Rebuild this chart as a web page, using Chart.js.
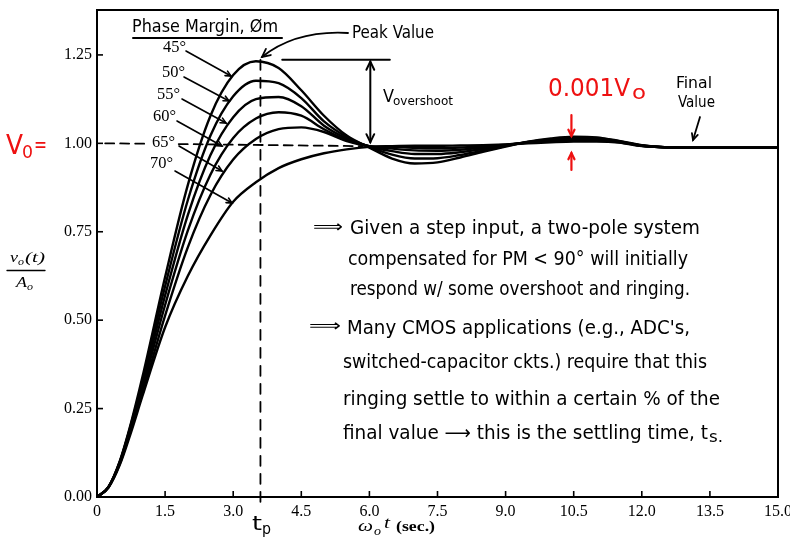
<!DOCTYPE html>
<html>
<head>
<meta charset="utf-8">
<script src="https://cdn.jsdelivr.net/npm/chart.js@4.4.1/dist/chart.umd.min.js"></script>
<style>
html, body { margin: 0; padding: 0; background: #fff; }
</style>
</head>
<body>
<canvas id="chart1" width="790" height="543"></canvas>
<script>
// w_o*t values shared by every curve
const tGrid = [0, 0.25, 0.5, 0.75, 1, 1.5, 2, 2.5, 3, 3.5, 4, 4.5, 5, 5.5, 6, 6.5, 7, 7.5, 8,
               8.5, 9, 9.5, 10, 10.5, 11, 11.5, 12, 12.5, 13, 14, 15];

// vo(t)/Ao, one list per phase margin
const pm45 = [0, 0.028, 0.101, 0.210, 0.339, 0.622, 0.882, 1.078, 1.193, 1.232, 1.213, 1.150, 1.078, 1.022, 0.988, 0.957, 0.943, 0.946, 0.960,
              0.976, 0.991, 1.005, 1.014, 1.019, 1.017, 1.007, 0.995, 0.989, 0.988, 0.988, 0.988];
const pm50 = [0, 0.028, 0.099, 0.206, 0.328, 0.596, 0.839, 1.022, 1.133, 1.177, 1.170, 1.128, 1.062, 1.018, 0.990, 0.968, 0.957, 0.958, 0.967,
              0.979, 0.992, 1.004, 1.012, 1.016, 1.015, 1.006, 0.994, 0.989, 0.988, 0.988, 0.988];
const pm55 = [0, 0.028, 0.098, 0.202, 0.317, 0.570, 0.797, 0.967, 1.074, 1.125, 1.131, 1.105, 1.050, 1.014, 0.991, 0.978, 0.970, 0.970, 0.975,
              0.984, 0.994, 1.004, 1.010, 1.013, 1.012, 1.005, 0.994, 0.989, 0.988, 0.988, 0.988];
const pm60 = [0, 0.027, 0.096, 0.197, 0.306, 0.543, 0.753, 0.912, 1.015, 1.070, 1.088, 1.078, 1.040, 1.010, 0.992, 0.985, 0.980, 0.979, 0.982,
              0.988, 0.995, 1.003, 1.008, 1.010, 1.009, 1.004, 0.993, 0.989, 0.988, 0.988, 0.988];
const pm65 = [0, 0.027, 0.093, 0.191, 0.293, 0.513, 0.706, 0.854, 0.954, 1.012, 1.040, 1.045, 1.032, 1.006, 0.992, 0.990, 0.987, 0.986, 0.988,
              0.991, 0.996, 1.002, 1.006, 1.007, 1.007, 1.003, 0.993, 0.989, 0.988, 0.988, 0.988];
const pm70 = [0, 0.026, 0.090, 0.183, 0.285, 0.480, 0.625, 0.740, 0.835, 0.890, 0.930, 0.955, 0.972, 0.983, 0.990, 0.992, 0.993, 0.993, 0.994,
              0.995, 0.997, 1.000, 1.003, 1.005, 1.005, 1.002, 0.992, 0.989, 0.988, 0.988, 0.988];

const seriesNames = ['45°', '50°', '55°', '60°', '65°', '70°'];

// axis ticks
const xTicks = [0, 1.5, 3, 4.5, 6, 7.5, 9, 10.5, 12, 13.5, 15];
const xTickLabels = ['0', '1.5', '3.0', '4.5', '6.0', '7.5', '9.0', '10.5', '12.0', '13.5', '15.0'];
const yTicks = [0, 0.25, 0.5, 0.75, 1, 1.25];
const yTickLabels = ['0.00', '0.25', '0.50', '0.75', '1.00', '1.25'];

const tPeak = 3.6;     // t_p marker
const vPeak = 1.236;

const hand = "'DejaVu Sans Condensed', 'DejaVu Sans', sans-serif";
const serif = "'Liberation Serif', 'DejaVu Serif', serif";
const red = '#ee1111';

function toPoints(vals) {
    return tGrid.map((t, i) => ({x: t, y: vals[i]}));
}

// draw text left-aligned, squeezed/stretched to width w
function fit(ctx, txt, x, y, w, font, color) {
    ctx.save();
    ctx.font = font;
    ctx.fillStyle = color || '#000';
    ctx.textBaseline = 'middle';
    ctx.textAlign = 'left';
    const m = ctx.measureText(txt).width;
    ctx.translate(x, y);
    ctx.scale(w / m, 1);
    ctx.fillText(txt, 0, 0);
    ctx.restore();
}

function line(ctx, x1, y1, x2, y2) {
    ctx.beginPath();
    ctx.moveTo(x1, y1);
    ctx.lineTo(x2, y2);
    ctx.stroke();
}

function head(ctx, x, y, ang, size) {
    ctx.beginPath();
    ctx.moveTo(x - size * Math.cos(ang - 0.45), y - size * Math.sin(ang - 0.45));
    ctx.lineTo(x, y);
    ctx.lineTo(x - size * Math.cos(ang + 0.45), y - size * Math.sin(ang + 0.45));
    ctx.stroke();
}

function arrow(ctx, x1, y1, x2, y2, size) {
    line(ctx, x1, y1, x2, y2);
    head(ctx, x2, y2, Math.atan2(y2 - y1, x2 - x1), size || 7);
}

const frame = {
    id: 'frame',
    afterDraw(chart) {
        const {ctx, chartArea: a, scales: {x, y}} = chart;
        ctx.save();
        ctx.strokeStyle = '#000';
        ctx.lineWidth = 2;
        ctx.strokeRect(a.left, a.top, a.right - a.left, a.bottom - a.top);
        ctx.lineWidth = 1.6;
        xTicks.forEach(v => {
            if (v > 0 && v < 15) {
                const px = x.getPixelForValue(v);
                line(ctx, px, a.bottom, px, a.bottom - 6);
            }
        });
        yTicks.forEach(v => {
            if (v > 0) {
                const py = y.getPixelForValue(v);
                line(ctx, a.left, py, a.left + 6, py);
            }
        });
        ctx.restore();
    }
};

const notes = {
    id: 'notes',
    afterDraw(chart) {
        const {ctx, scales: {x, y}} = chart;
        const X = v => x.getPixelForValue(v);
        const Y = v => y.getPixelForValue(v);
        ctx.save();
        ctx.strokeStyle = '#000';
        ctx.lineCap = 'round';

        // dashed reference lines
        ctx.lineWidth = 1.8;
        ctx.setLineDash([9, 6]);
        line(ctx, X(0.18), Y(1.0), X(1.15), Y(0.999));
        line(ctx, X(1.8), Y(0.998), X(5.85), Y(0.992));
        ctx.setLineDash([10, 8]);
        line(ctx, X(tPeak), Y(vPeak), X(tPeak), Y(-0.02));
        ctx.setLineDash([]);

        // overshoot marker
        ctx.lineWidth = 2;
        line(ctx, X(4.08), Y(vPeak), X(6.45), Y(vPeak));
        line(ctx, X(6.02), Y(vPeak - 0.005), X(6.02), Y(1.003));
        head(ctx, X(6.02), Y(vPeak - 0.005), -Math.PI / 2, 9);
        head(ctx, X(6.02), Y(1.003), Math.PI / 2, 9);

        // phase margin labels with pointers
        const labPos = [[163, 48], [162, 73], [157, 95], [153, 117], [152, 143], [150, 164]];
        const ptr = [[186, 51, 231, 76], [184, 77, 229, 101], [182, 99, 226, 123],
                     [177, 121, 222, 146], [179, 146, 222, 171], [175, 171, 232, 203]];
        ctx.lineWidth = 1.6;
        seriesNames.forEach((n, i) => {
            fit(ctx, n, labPos[i][0], labPos[i][1], 23, '17px ' + serif);
            arrow(ctx, ptr[i][0], ptr[i][1], ptr[i][2], ptr[i][3], 6);
        });

        // Phase Margin heading
        fit(ctx, 'Phase Margin, Øm', 132, 28, 146, '17px ' + hand);
        ctx.lineWidth = 2;
        line(ctx, 133, 38, 282, 38);

        // Peak Value
        fit(ctx, 'Peak Value', 352, 34, 82, '17px ' + hand);
        ctx.lineWidth = 1.8;
        ctx.beginPath();
        ctx.moveTo(348, 33);
        ctx.quadraticCurveTo(296, 30, 262, 57);
        ctx.stroke();
        head(ctx, 262, 57, Math.atan2(57 - 30, 262 - 296), 9);

        // V overshoot
        fit(ctx, 'V', 383, 98, 11, '17px ' + hand);
        fit(ctx, 'overshoot', 393, 102, 60, '12px ' + hand);

        // Final Value
        fit(ctx, 'Final', 676, 84, 36, '15px ' + hand);
        fit(ctx, 'Value', 678, 103, 37, '15px ' + hand);
        arrow(ctx, 700, 117, 693, 140, 7);

        // red notes
        ctx.strokeStyle = red;
        ctx.lineWidth = 2.2;
        fit(ctx, '0.001V', 548, 90, 82, '24px ' + hand, red);
        fit(ctx, 'o', 632, 94, 14, '20px ' + hand, red);
        arrow(ctx, X(10.45), 115, X(10.45), 136, 7);
        arrow(ctx, X(10.45), 170, X(10.45), 153, 7);
        fit(ctx, 'V', 6, 147, 17, '26px ' + hand, red);
        fit(ctx, '0', 22, 153, 11, '18px ' + hand, red);
        fit(ctx, '=', 34, 146, 13, '22px ' + hand, red);

        // handwritten remarks
        ctx.strokeStyle = '#000';
        const f = '19px ' + hand;
        fit(ctx, '⟹', 313, 228, 30, '17px ' + hand);
        fit(ctx, 'Given a step input, a two-pole system', 350, 229, 350, f);
        fit(ctx, 'compensated for PM < 90° will initially', 348, 260, 340, f);
        fit(ctx, 'respond w/ some overshoot and ringing.', 350, 290, 340, f);
        fit(ctx, '⟹', 309, 327, 32, '17px ' + hand);
        fit(ctx, "Many CMOS applications (e.g., ADC's,", 347, 329, 343, f);
        fit(ctx, 'switched-capacitor ckts.) require that this', 343, 363, 364, f);
        fit(ctx, 'ringing settle to within a certain % of the', 343, 400, 377, f);
        fit(ctx, 'final value ⟶ this is the settling time, t', 343, 434, 365, f);
        fit(ctx, 's.', 709, 438, 14, '15px ' + hand);

        // t_p under the axis
        fit(ctx, 't', 252, 525, 10, '20px ' + hand);
        fit(ctx, 'p', 262, 530, 9, '15px ' + hand);

        // axis titles
        ctx.fillStyle = '#000';
        fit(ctx, 'v', 10, 258, 8, 'italic 15px ' + serif);
        fit(ctx, 'o', 18, 262, 6, 'italic 11px ' + serif);
        fit(ctx, '(t)', 25, 258, 20, 'italic 15px ' + serif);
        ctx.lineWidth = 1.3;
        line(ctx, 7, 270.5, 45, 270.5);
        fit(ctx, 'A', 16, 283, 11, 'italic 15px ' + serif);
        fit(ctx, 'o', 27, 287, 6, 'italic 11px ' + serif);

        fit(ctx, 'ω', 358, 527, 15, 'italic 17px ' + serif);
        fit(ctx, 'o', 374, 532, 7, 'italic 12px ' + serif);
        fit(ctx, 't', 384, 524, 6, 'italic 16px ' + serif);
        fit(ctx, '(sec.)', 396, 527, 39, 'bold 15px ' + serif);
        ctx.restore();
    }
};

const data = {
    datasets: [pm45, pm50, pm55, pm60, pm65, pm70].map((s, i) => ({
        label: seriesNames[i],
        data: toPoints(s),
        borderColor: '#000',
        borderWidth: 2.4,
        pointRadius: 0,
        fill: false,
        cubicInterpolationMode: 'monotone'
    }))
};

const config = {
    type: 'line',
    data: data,
    options: {
        responsive: false,
        animation: false,
        layout: {padding: {left: 0, right: 12, top: 10, bottom: 0}},
        plugins: {
            legend: {display: false},
            tooltip: {enabled: false}
        },
        scales: {
            x: {
                type: 'linear',
                min: 0,
                max: 15,
                grid: {display: false, drawTicks: false},
                border: {display: false},
                afterBuildTicks: s => { s.ticks = xTicks.map(v => ({value: v})); },
                afterFit: s => { s.height = 46; s.paddingLeft = 0; s.paddingRight = 0; },
                ticks: {
                    autoSkip: false,
                    maxRotation: 0,
                    padding: 5,
                    color: '#000',
                    font: {family: "'Liberation Serif'", size: 16},
                    callback: (v, i) => xTickLabels[i]
                }
            },
            y: {
                min: 0,
                max: 1.377,
                grid: {display: false, drawTicks: false},
                border: {display: false},
                afterBuildTicks: s => { s.ticks = yTicks.map(v => ({value: v})); },
                afterFit: s => { s.width = 97; s.paddingTop = 0; s.paddingBottom = 0; },
                ticks: {
                    autoSkip: false,
                    padding: 5,
                    color: '#000',
                    font: {family: "'Liberation Serif'", size: 16},
                    callback: (v, i) => yTickLabels[i]
                }
            }
        }
    },
    plugins: [frame, notes]
};

const chart1 = new Chart(document.getElementById('chart1'), config);
</script>
</body>
</html>
